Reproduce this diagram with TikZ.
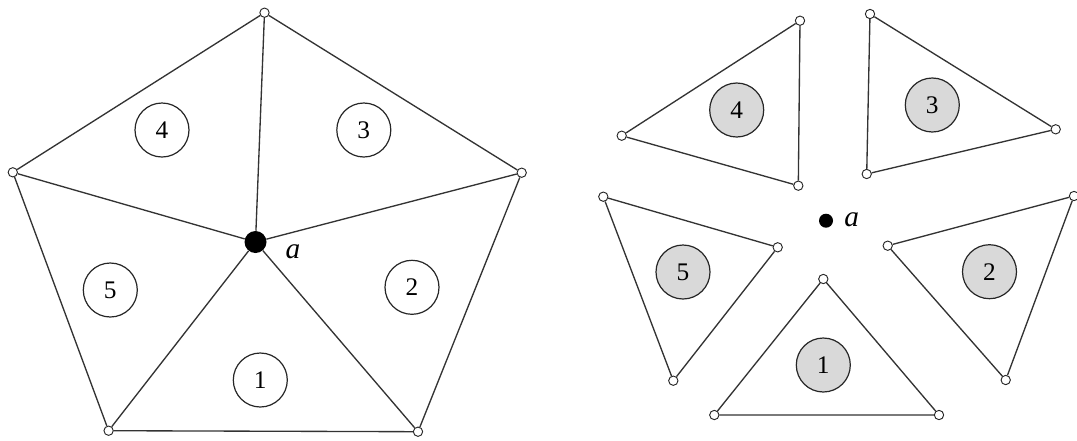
\documentclass[tikz,border=0pt]{standalone}
\usepackage{fontspec}
\setmainfont{Liberation Serif}
\begin{document}
\begin{tikzpicture}[x=0.75pt,y=-0.75pt,
  vtx/.style={circle,draw=black!85,fill=white,line width=0.7pt,inner sep=0pt,minimum size=7pt},
  face/.style={circle,draw=black!85,line width=0.9pt,minimum size=40.5pt,inner sep=0pt,font=\fontsize{19}{19}\selectfont},
  gface/.style={face,fill=black!15},
  edge/.style={line width=1pt,draw=black!80},
  hub/.style={circle,fill=black,inner sep=0pt},
  lab/.style={inner sep=0pt,font=\fontsize{22}{22}\selectfont\itshape}]
\useasboundingbox (0,0) rectangle (1077,440);
% ---------- left: pentagon ----------
\node[vtx] (L1) at (264.5,12.7) {};
\node[vtx] (L2) at (521.7,172.7) {};
\node[vtx] (L3) at (418,431.7) {};
\node[vtx] (L4) at (108.6,430.7) {};
\node[vtx] (L5) at (12.8,172.3) {};
\node[hub,minimum size=16.5pt] (A) at (255.5,242) {};
\node[lab] (Alab) at (293,252) {a};
\draw[edge] (L1) -- (L2) -- (L3) -- (L4) -- (L5) -- (L1);
\foreach \v in {L1,L2,L3,L4,L5} \draw[edge] (A) -- (\v);
\node[face] (F4) at (162,130) {4};
\node[face] (F3) at (363.8,130) {3};
\node[face] (F5) at (110.3,290) {5};
\node[face] (F2) at (412,287.3) {2};
\node[face] (F1) at (260.3,380) {1};
% ---------- right: separated triangles ----------
\node[hub,minimum size=10.5pt] (B) at (826,220.7) {};
\node[lab] (Blab) at (851.7,220) {a};
% triangle 4
\node[vtx] (P4a) at (800,20.7) {};
\node[vtx] (P4b) at (621.7,135.7) {};
\node[vtx] (P4c) at (798.3,185.7) {};
\draw[edge] (P4a) -- (P4b) -- (P4c) -- (P4a);
\node[gface] (G4) at (736.7,110) {4};
% triangle 3
\node[vtx] (P3a) at (870,14) {};
\node[vtx] (P3b) at (1055.7,129.3) {};
\node[vtx] (P3c) at (866.7,174) {};
\draw[edge] (P3a) -- (P3b) -- (P3c) -- (P3a);
\node[gface] (G3) at (932.3,105) {3};
% triangle 5
\node[vtx] (P5a) at (603.3,196.7) {};
\node[vtx] (P5b) at (777.7,247.3) {};
\node[vtx] (P5c) at (673.3,380.7) {};
\draw[edge] (P5a) -- (P5b) -- (P5c) -- (P5a);
\node[gface] (G5) at (683,272) {5};
% triangle 2
\node[vtx] (P2a) at (887.7,245.7) {};
\node[vtx] (P2b) at (1074,196) {};
\node[vtx] (P2c) at (1005.7,380) {};
\draw[edge] (P2a) -- (P2b) -- (P2c) -- (P2a);
\node[gface] (G2) at (989.5,271.7) {2};
% triangle 1
\node[vtx] (P1a) at (823.3,279) {};
\node[vtx] (P1b) at (714.3,415) {};
\node[vtx] (P1c) at (939,415) {};
\draw[edge] (P1a) -- (P1b) -- (P1c) -- (P1a);
\node[gface] (G1) at (823.3,365) {1};
\end{tikzpicture}
\end{document}
